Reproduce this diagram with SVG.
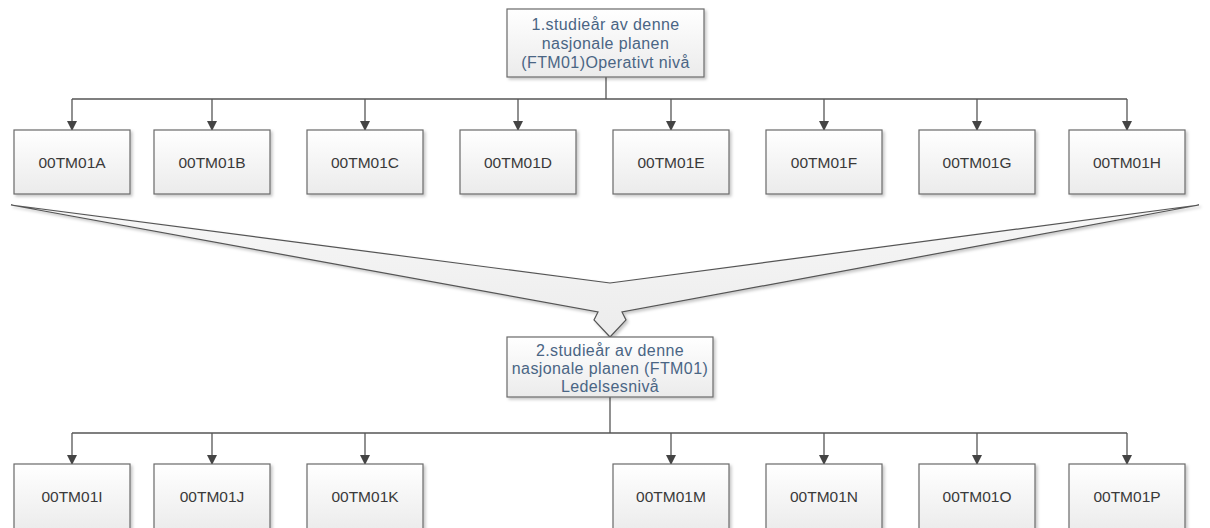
<svg xmlns="http://www.w3.org/2000/svg" width="1210" height="528" viewBox="0 0 1210 528">
<style>
  .box { fill: url(#boxgrad); stroke: #6a6a6a; stroke-width: 1.2; filter: url(#shadow); }
  .lbl { font-family: "Liberation Sans", Arial, sans-serif; font-size: 15.5px; fill: #3a3a3a; text-anchor: middle; }
  .hdr { font-family: "Liberation Sans", Arial, sans-serif; font-size: 16px; letter-spacing: 0.4px; fill: #4a6584; text-anchor: middle; }
  .conn { fill: none; stroke: #555; stroke-width: 1.3; }
  .big { fill: url(#biggrad); stroke: #555; stroke-width: 1.2; stroke-linejoin: miter; filter: url(#shadow); }
</style>
<defs>
  <linearGradient id="boxgrad" x1="0" y1="0" x2="0" y2="1">
    <stop offset="0" stop-color="#ffffff"/>
    <stop offset="1" stop-color="#ebebeb"/>
  </linearGradient>
  <linearGradient id="biggrad" x1="0" y1="0" x2="0" y2="1">
    <stop offset="0" stop-color="#f7f7f7"/>
    <stop offset="1" stop-color="#ececec"/>
  </linearGradient>
  <filter id="shadow" x="-10%" y="-10%" width="130%" height="130%">
    <feDropShadow dx="2" dy="2" stdDeviation="1.5" flood-color="#000" flood-opacity="0.22"/>
  </filter>
  <marker id="arr" markerWidth="10" markerHeight="10" refX="9" refY="5" orient="auto" markerUnits="userSpaceOnUse">
    <path d="M0,0 L10,5 L0,10 Z" fill="#444"/>
  </marker>
</defs>

<g id="connectors">
  <path class="conn" d="M606,77 V99"/>
  <path class="conn" d="M72,99 H1127"/>
  <path class="conn" d="M72,99 V130" marker-end="url(#arr)"/>
  <path class="conn" d="M212,99 V130" marker-end="url(#arr)"/>
  <path class="conn" d="M365,99 V130" marker-end="url(#arr)"/>
  <path class="conn" d="M518,99 V130" marker-end="url(#arr)"/>
  <path class="conn" d="M671,99 V130" marker-end="url(#arr)"/>
  <path class="conn" d="M824,99 V130" marker-end="url(#arr)"/>
  <path class="conn" d="M977,99 V130" marker-end="url(#arr)"/>
  <path class="conn" d="M1127,99 V130" marker-end="url(#arr)"/>
  <path class="conn" d="M610,397 V433"/>
  <path class="conn" d="M72,433 H1127"/>
  <path class="conn" d="M72,433 V464" marker-end="url(#arr)"/>
  <path class="conn" d="M212,433 V464" marker-end="url(#arr)"/>
  <path class="conn" d="M365,433 V464" marker-end="url(#arr)"/>
  <path class="conn" d="M671,433 V464" marker-end="url(#arr)"/>
  <path class="conn" d="M824,433 V464" marker-end="url(#arr)"/>
  <path class="conn" d="M977,433 V464" marker-end="url(#arr)"/>
  <path class="conn" d="M1127,433 V464" marker-end="url(#arr)"/>
</g>

<g id="merge-arrow">
  <path class="big" d="M11,205 L610,283 L1199,205 L622,312 L626,320 L610,337 L594,320 L598,312 Z"/>
</g>

<g id="year1">
  <rect class="box" x="507" y="9" width="197" height="68"/>
  <text class="hdr" x="605.5" y="30">1.studieår av denne</text>
  <text class="hdr" x="605.5" y="49">nasjonale planen</text>
  <text class="hdr" x="605.5" y="68">(FTM01)Operativt nivå</text>
</g>

<g id="n00TM01A"><rect class="box" x="14" y="130" width="116" height="64"/><text class="lbl" x="72" y="167.5">00TM01A</text></g>
<g id="n00TM01B"><rect class="box" x="154" y="130" width="116" height="64"/><text class="lbl" x="212" y="167.5">00TM01B</text></g>
<g id="n00TM01C"><rect class="box" x="307" y="130" width="116" height="64"/><text class="lbl" x="365" y="167.5">00TM01C</text></g>
<g id="n00TM01D"><rect class="box" x="460" y="130" width="116" height="64"/><text class="lbl" x="518" y="167.5">00TM01D</text></g>
<g id="n00TM01E"><rect class="box" x="613" y="130" width="116" height="64"/><text class="lbl" x="671" y="167.5">00TM01E</text></g>
<g id="n00TM01F"><rect class="box" x="766" y="130" width="116" height="64"/><text class="lbl" x="824" y="167.5">00TM01F</text></g>
<g id="n00TM01G"><rect class="box" x="919" y="130" width="116" height="64"/><text class="lbl" x="977" y="167.5">00TM01G</text></g>
<g id="n00TM01H"><rect class="box" x="1069" y="130" width="116" height="64"/><text class="lbl" x="1127" y="167.5">00TM01H</text></g>

<g id="year2">
  <rect class="box" x="507" y="337" width="206" height="60"/>
  <text class="hdr" x="610" y="356">2.studieår av denne</text>
  <text class="hdr" x="610" y="374">nasjonale planen (FTM01)</text>
  <text class="hdr" x="610" y="392">Ledelsesnivå</text>
</g>

<g id="n00TM01I"><rect class="box" x="14" y="464" width="116" height="68"/><text class="lbl" x="72" y="502">00TM01I</text></g>
<g id="n00TM01J"><rect class="box" x="154" y="464" width="116" height="68"/><text class="lbl" x="212" y="502">00TM01J</text></g>
<g id="n00TM01K"><rect class="box" x="307" y="464" width="116" height="68"/><text class="lbl" x="365" y="502">00TM01K</text></g>
<g id="n00TM01M"><rect class="box" x="613" y="464" width="116" height="68"/><text class="lbl" x="671" y="502">00TM01M</text></g>
<g id="n00TM01N"><rect class="box" x="766" y="464" width="116" height="68"/><text class="lbl" x="824" y="502">00TM01N</text></g>
<g id="n00TM01O"><rect class="box" x="919" y="464" width="116" height="68"/><text class="lbl" x="977" y="502">00TM01O</text></g>
<g id="n00TM01P"><rect class="box" x="1069" y="464" width="116" height="68"/><text class="lbl" x="1127" y="502">00TM01P</text></g>
</svg>
